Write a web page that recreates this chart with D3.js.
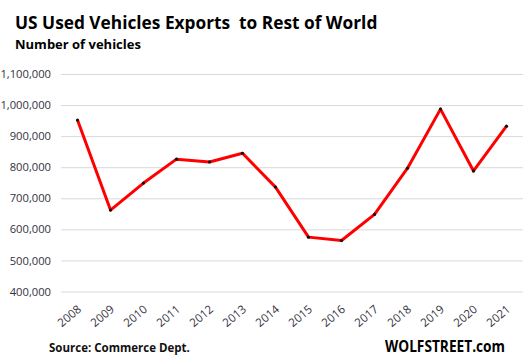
<!DOCTYPE html>
<html>
  <script src="https://d3js.org/d3.v7.js"></script>
  <body style="margin:0">
    <svg id="chart" width="530" height="364"></svg>
    <script>
      // data
      const years = ["2008", "2009", "2010", "2011", "2012", "2013", "2014",
                     "2015", "2016", "2017", "2018", "2019", "2020", "2021"];
      const exportsCount = [952000, 662000, 749000, 826000, 817000, 845000, 736000,
                            575000, 564000, 648000, 797000, 987000, 788000, 932000];
      const yTicks = [400000, 500000, 600000, 700000, 800000, 900000, 1000000, 1100000];

      const width = 530, height = 364;
      const plotLeft = 61, plotRight = 523, plotTop = 74, plotBottom = 291.5;
      const font = "'Open Sans', sans-serif";

      const svg = d3.select("#chart");
      svg.append("rect").attr("width", width).attr("height", height).attr("fill", "#fff");

      const x = d3.scalePoint().domain(years).range([plotLeft, plotRight]).padding(0.5);
      const y = d3.scaleLinear().domain([400000, 1100000]).range([plotBottom, plotTop]);

      // gridlines + y labels
      const yAxis = svg.append("g")
        .attr("transform", "translate(" + plotLeft + ",0)")
        .call(d3.axisLeft(y).tickValues(yTicks)
          .tickSize(-(plotRight - plotLeft)).tickPadding(10)
          .tickFormat(d3.format(",")));
      yAxis.select(".domain").remove();
      yAxis.selectAll("line").attr("stroke", "#d9d9d9").attr("stroke-width", 1);
      yAxis.selectAll("text")
        .attr("font-family", font).attr("font-size", 11.2)
        .attr("fill", "#333340");

      // x labels, rotated
      const xAxis = svg.append("g")
        .attr("transform", "translate(0," + plotBottom + ")")
        .call(d3.axisBottom(x).tickSize(0).tickPadding(0));
      xAxis.select(".domain").remove();
      xAxis.selectAll("text")
        .attr("font-family", font).attr("font-size", 11.5)
        .attr("fill", "#333340")
        .attr("text-anchor", "end")
        .attr("y", 0)
        .attr("dy", 0)
        .attr("transform", "translate(4,19) rotate(-40)");

      // line
      const line = d3.line()
        .x((d, i) => x(years[i]))
        .y(d => y(d));

      svg.append("path")
        .datum(exportsCount)
        .attr("d", line)
        .attr("fill", "none")
        .attr("stroke", "#ff0000")
        .attr("stroke-width", 3)
        .attr("stroke-linejoin", "round");

      svg.selectAll(".dot")
        .data(exportsCount)
        .enter()
        .append("circle")
        .attr("cx", (d, i) => x(years[i]))
        .attr("cy", d => y(d))
        .attr("r", 1.6)
        .attr("fill", "#111");

      // titles
      svg.append("text").attr("x", 15).attr("y", 29)
        .attr("font-family", font).attr("font-size", 17.3).attr("font-weight", "bold")
        .attr("fill", "#000")
        .style("white-space", "pre")
        .text("US Used Vehicles Exports  to Rest of World");
      svg.append("text").attr("x", 15).attr("y", 49)
        .attr("font-family", font).attr("font-size", 13).attr("font-weight", "bold")
        .attr("fill", "#000")
        .text("Number of vehicles");

      svg.append("text").attr("x", 49).attr("y", 352)
        .attr("font-family", font).attr("font-size", 11.5).attr("font-weight", "bold")
        .attr("fill", "#111")
        .text("Source: Commerce Dept.");
      svg.append("text").attr("x", 385).attr("y", 352)
        .attr("font-family", font).attr("font-size", 15.5).attr("font-weight", "bold")
        .attr("fill", "#000")
        .attr("textLength", 120).attr("lengthAdjust", "spacingAndGlyphs")
        .text("WOLFSTREET.com");
    </script>
  </body>
</html>
